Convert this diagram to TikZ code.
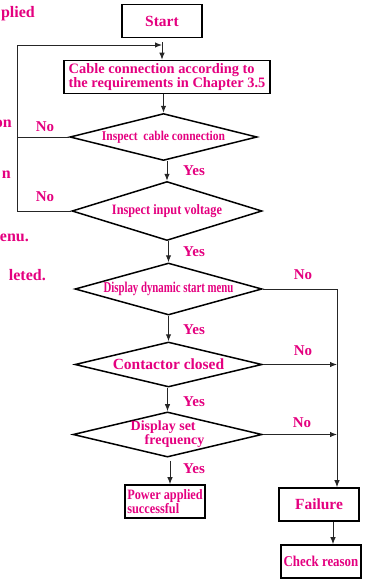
\documentclass[tikz,border=0pt]{standalone}
\usepackage{fontspec}
\setmainfont{Liberation Serif}
\newfontfamily\condfont[FakeStretch=0.86]{Liberation Serif}
\newfontfamily\narrowfont[FakeStretch=0.72]{Liberation Serif}
\usetikzlibrary{shapes.geometric,arrows.meta}
\definecolor{flowpink}{RGB}{228,0,127}

\begin{document}
\begin{tikzpicture}[x=1pt,y=-1pt]
\tikzstyle{stepbox} = [draw, line width=1.6pt, minimum width=80pt, minimum height=33pt, inner sep=1pt, text=flowpink, align=left, font=\bfseries\fontsize{15.5}{14}\selectfont]
\tikzstyle{query} = [diamond, draw, line width=1.5pt, aspect=4, inner sep=0pt, text=flowpink, align=center]
\tikzstyle{answer} = [text=flowpink, inner sep=0pt, font=\bfseries\fontsize{15}{15}\selectfont]
\tikzstyle{cut} = [text=flowpink, inner sep=0pt, anchor=base east, font=\bfseries\fontsize{16}{16}\selectfont]
\tikzstyle{flow} = [draw=black!85, line width=1pt, -{Latex[length=7pt,width=5.5pt]}]
\tikzstyle{wire} = [draw=black!85, line width=1pt]
\useasboundingbox (0,0) rectangle (365,579);

% text cut off at the left page edge
\node[cut] (cut1) at (35,17) {plied};
\node[cut] (cut2) at (12,127) {on};
\node[cut] (cut3) at (11,178) {n};
\node[cut] (cut4) at (29,241) {enu.};
\node[cut] (cut5) at (46,280) {leted.};

% boxes and checks
\node[stepbox] (start) at (162,21) {Start};
\node[stepbox, minimum width=206pt, font=\bfseries\fontsize{14.4}{14.5}\selectfont] (cable) at (167,77) {Cable connection according to\\the requirements in Chapter 3.5};
\node[query, minimum width=187pt, minimum height=47pt, font=\condfont\bfseries\fontsize{13.4}{13}\selectfont] (chkcable) at (163.5,137) {Inspect\ \ cable connection};
\node[query, minimum width=190pt, minimum height=59pt, font=\condfont\bfseries\fontsize{14.3}{14}\selectfont] (chkvolt) at (167,211) {Inspect input voltage};
\node[query, minimum width=187pt, minimum height=52pt, font=\narrowfont\bfseries\fontsize{15}{14}\selectfont] (dispmenu) at (168.5,289) {Display dynamic start menu};
\node[query, minimum width=187pt, minimum height=45pt, font=\bfseries\fontsize{15.5}{15}\selectfont] (contactor) at (168.5,364.5) {Contactor closed};
\node[query, minimum width=189pt, minimum height=45pt, align=left, font=\bfseries\fontsize{14}{14}\selectfont] (setfreq) at (167.5,434.5) {Display set\\\hspace*{14pt}frequency};
\node[stepbox, font=\condfont\bfseries\fontsize{14.3}{14}\selectfont] (power) at (165,501.5) {Power applied\\successful};
\node[stepbox] (failure) at (319,504.5) {Failure};
\node[stepbox, font=\condfont\bfseries\fontsize{15}{14}\selectfont] (check) at (321,561.5) {Check reason};

% answers
\node[answer] (no1) at (45,127) {No};
\node[answer] (yes1) at (194,171) {Yes};
\node[answer] (no2) at (45,197) {No};
\node[answer] (yes2) at (194,252) {Yes};
\node[answer] (no3) at (303,275) {No};
\node[answer] (yes3) at (194,330) {Yes};
\node[answer] (no4) at (303,351) {No};
\node[answer] (yes4) at (194,402) {Yes};
\node[answer] (no5) at (302,423) {No};
\node[answer] (yes5) at (194,469) {Yes};

\coordinate (loopL) at (17,45);
\coordinate (loopin) at (162,45);
\coordinate (failL) at (337,289);

% connectors
\draw[flow] ([yshift=-4pt]start.south) -- (start.south |- cable.north);
\draw[flow] (chkcable.north |- cable.south) -- (chkcable.north);
\draw[flow] (chkvolt.north |- chkcable.south) -- (chkvolt.north);
\draw[flow] (dispmenu.north |- chkvolt.south) -- (dispmenu.north);
\draw[flow] (contactor.north |- dispmenu.south) -- (contactor.north);
\draw[flow] (setfreq.north |- contactor.south) -- (setfreq.north);
\draw[flow] ([xshift=2.5pt,yshift=-3pt]setfreq.south) -- ([xshift=2.5pt]setfreq.south |- power.north);
\draw[flow] (chkcable.west) -| (loopL) -- (loopin);
\draw[wire] (chkvolt.west) -| (loopL);
\draw[wire] (dispmenu.east) -- (failL);
\draw[flow] (failL) -- (failL |- failure.north);
\draw[flow] (contactor.east) -- (contactor.east -| failL);
\draw[flow] (setfreq.east) -- (setfreq.east -| failL);
\draw[flow] ([xshift=14pt]failure.south) -- ([xshift=14pt]failure.south |- check.north);
\end{tikzpicture}
\end{document}
